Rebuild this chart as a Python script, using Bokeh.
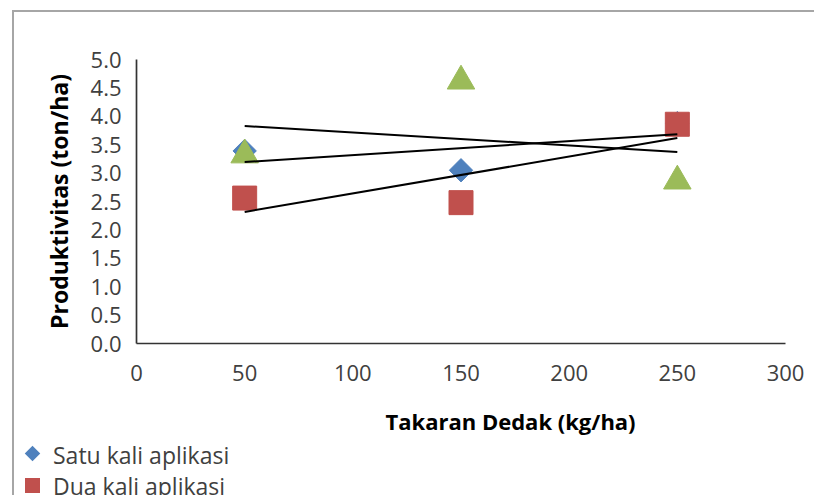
import numpy as np
from bokeh.plotting import figure
from bokeh.layouts import column
from bokeh.models import (ColumnDataSource, Range1d, FixedTicker, Title, Div,
                          NumeralTickFormatter)
from bokeh.embed import file_html
from bokeh.resources import INLINE

# ---- data ----
dosis = [50, 150, 250]
satu_kali = [3.39, 3.05, 3.88]
dua_kali = [2.56, 2.48, 3.86]
tiga_kali = [3.32, 4.62, 2.86]
series_names = ["Satu kali aplikasi", "Dua kali aplikasi", "Tiga kali aplikasi"]
x_ticks = [0, 50, 100, 150, 200, 250, 300]
y_ticks = [0.0, 0.5, 1.0, 1.5, 2.0, 2.5, 3.0, 3.5, 4.0, 4.5, 5.0]

FONT = "Open Sans"
TXT = "#404040"
colors = ["#4F81BD", "#C0504D", "#9BBB59"]

W = 800
H1 = 444
H2 = 55

p = figure(width=W, height=H1, output_backend="svg", toolbar_location=None,
           x_range=Range1d(0, 300), y_range=Range1d(0, 5),
           min_border_left=122, min_border_right=29, min_border_top=47,
           min_border_bottom=113)
p.outline_line_color = None

# grid: only the top line
p.xgrid.visible = False
p.ygrid.ticker = FixedTicker(ticks=[5.0])
p.ygrid.grid_line_color = "#b0b0b0"
p.ygrid.grid_line_width = 1.3

for ax in (p.xaxis[0], p.yaxis[0]):
    ax.axis_line_color = "#333333"
    ax.axis_line_width = 1.7
    ax.major_tick_line_color = None
    ax.minor_tick_line_color = None
    ax.major_tick_out = 0
    ax.major_tick_in = 0
    ax.minor_tick_out = 0
    ax.major_label_text_font = FONT
    ax.major_label_text_font_size = "22px"
    ax.major_label_text_color = TXT

p.xaxis.ticker = FixedTicker(ticks=x_ticks)
p.yaxis.ticker = FixedTicker(ticks=y_ticks)
p.yaxis.formatter = NumeralTickFormatter(format="0.0")
p.yaxis.axis_label = "Produktivitas (ton/ha)"
p.yaxis.axis_label_text_font = FONT
p.yaxis.axis_label_text_font_size = "23px"
p.yaxis.axis_label_text_font_style = "bold"
p.yaxis.axis_label_text_color = "#000000"
p.yaxis.major_label_standoff = 15
p.xaxis.major_label_standoff = 21
p.yaxis.axis_label_standoff = 13

# x axis title, placed off-centre like the original
xtitle = Title(text="Takaran Dedak (kg/ha)", align="left", offset=249,
               text_font=FONT, text_font_size="22px", text_font_style="bold",
               text_color="#000000", standoff=40)
p.add_layout(xtitle, "below")

src = ColumnDataSource(dict(x=dosis, s1=satu_kali, s2=dua_kali, s3=tiga_kali))

p.scatter("x", "s1", source=src, marker="square", angle=np.pi / 4, size=16.5,
          fill_color=colors[0], line_color=colors[0])
p.scatter("x", "s2", source=src, marker="square", size=24,
          fill_color=colors[1], line_color=colors[1])
p.scatter("x", "s3", source=src, marker="triangle", size=27.5,
          fill_color=colors[2], line_color=colors[2])

# linear trendlines (least squares fit of each series)
xs = np.array(dosis, dtype=float)
xe = np.array([min(dosis), max(dosis)], dtype=float)
for ys in (tiga_kali, satu_kali, dua_kali):
    m, b = np.polyfit(xs, np.array(ys), 1)
    p.line(xe, m * xe + b, line_color="black", line_width=2)

# ---- legend strip (cropped at the bottom like the reference) ----
swatches = [
    f"<span style='position:absolute;left:8px;top:7.5px;width:11px;height:11px;"
    f"background:{colors[0]};transform:rotate(45deg);'></span>",
    f"<span style='position:absolute;left:6px;top:38px;width:15px;height:15px;"
    f"background:{colors[1]};'></span>",
]
labels = [
    f"<span style='position:absolute;left:34px;top:0px;line-height:31px;white-space:nowrap;'>"
    f"{series_names[0]}</span>",
    f"<span style='position:absolute;left:34px;top:31px;line-height:31px;white-space:nowrap;'>"
    f"{series_names[1]}</span>",
]
legend_html = ("<div style=\"position:relative;width:800px;height:55px;overflow:hidden;"
               f"font-family:'{FONT}';font-size:23px;color:{TXT};\">"
               + "".join(swatches) + "".join(labels) + "</div>")
leg = Div(text=legend_html, width=W, height=H2,
          styles={"overflow": "hidden", "padding": "0", "margin-top": "-16px"})

layout = column(p, leg, spacing=0,
                styles={"margin-left": "12px", "margin-top": "10px",
                        "border-left": "2px solid #a6a6a6",
                        "border-top": "2px solid #a6a6a6"})

open("out.html", "w").write(file_html(layout, INLINE))
